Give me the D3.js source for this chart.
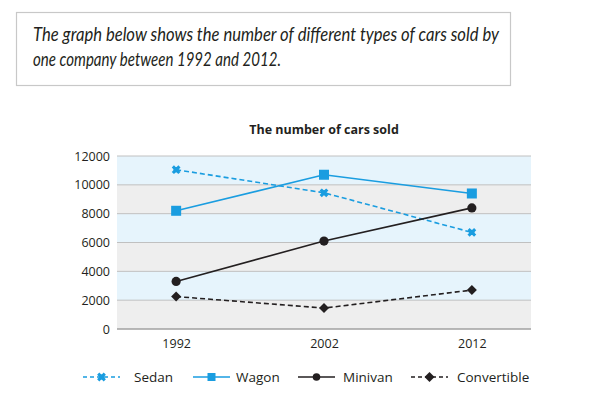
<!DOCTYPE html>
<html>
<head>
<meta charset="utf-8">
<script src="https://cdn.jsdelivr.net/npm/d3@7"></script>
<style>
  html, body { margin: 0; padding: 0; background: #fff; }
  svg { display: block; font-family: "Open Sans", "Noto Sans", sans-serif; }
</style>
</head>
<body>
<svg id="chart" width="615" height="414"></svg>
<script>
const years = ["1992", "2002", "2012"];
const sedan = [11050, 9450, 6700];
const wagon = [8200, 10700, 9400];
const minivan = [3300, 6100, 8400];
const convertible = [2250, 1450, 2700];
const yTicks = [0, 2000, 4000, 6000, 8000, 10000, 12000];
const seriesNames = ["Sedan", "Wagon", "Minivan", "Convertible"];

(function () {
const BLUE = "#1a9de0";
const DARK = "#231f20";
const series = [
  { name: seriesNames[0], values: sedan, color: BLUE, dash: "5,3", marker: "cross" },
  { name: seriesNames[1], values: wagon, color: BLUE, dash: null, marker: "square" },
  { name: seriesNames[2], values: minivan, color: DARK, dash: null, marker: "circle" },
  { name: seriesNames[3], values: convertible, color: DARK, dash: "5,3", marker: "diamond" }
];

const svg = d3.select("#chart");

// Intro box
svg.append("rect").attr("x", 16.5).attr("y", 12.5).attr("width", 494).attr("height", 73)
  .attr("fill", "#fff").attr("stroke", "#c8c8c8").attr("stroke-width", 1.2);
const intro = ["The graph below shows the number of different types of cars sold by",
               "one company between 1992 and 2012."];
const introLen = [466, 248];
svg.selectAll("text.intro").data(intro).join("text").attr("class", "intro")
  .attr("x", 33).attr("y", (d, i) => 41 + i * 25)
  .attr("font-size", 19).attr("font-style", "italic").attr("fill", "#231f20")
  .attr("font-family", "Lato, 'Open Sans', sans-serif")
  .attr("textLength", (d, i) => introLen[i]).attr("lengthAdjust", "spacingAndGlyphs")
  .text(d => d);

// Plot area
const pLeft = 117, pRight = 531, pTop = 156, pBottom = 329;
const x = d3.scalePoint().domain(years).range([pLeft, pRight]).padding(0.4);
const y = d3.scaleLinear().domain([0, 12000]).range([pBottom, pTop]);

// bands
const bands = d3.pairs(yTicks);
svg.append("g").selectAll("rect").data(bands).join("rect")
  .attr("x", pLeft).attr("width", pRight - pLeft)
  .attr("y", d => y(d[1])).attr("height", d => y(d[0]) - y(d[1]))
  .attr("fill", (d, i) => i % 2 === 0 ? "#eeeeee" : "#e6f4fc");

// grid
svg.append("g").selectAll("line").data(yTicks).join("line")
  .attr("x1", pLeft).attr("x2", pRight)
  .attr("y1", d => y(d)).attr("y2", d => y(d))
  .attr("stroke", d => d === 0 ? "#a0a0a0" : "#c0c0c0").attr("stroke-width", d => d === 0 ? 1.5 : 1);

// y axis labels
const yAxis = d3.axisLeft(y).tickValues(yTicks).tickSize(0).tickPadding(7).tickFormat(d3.format("d"));
const yg = svg.append("g").attr("transform", `translate(${pLeft},0)`).call(yAxis);
yg.select(".domain").remove();
yg.selectAll("text").attr("font-size", 12.5).attr("fill", "#231f20").attr("font-family", "'Open Sans', sans-serif");

// x axis labels
const xAxis = d3.axisBottom(x).tickSize(0).tickPadding(10);
const xg = svg.append("g").attr("transform", `translate(0,${pBottom})`).call(xAxis);
xg.select(".domain").remove();
xg.selectAll("text").attr("font-size", 12.5).attr("fill", "#231f20").attr("font-family", "'Open Sans', sans-serif");

// title
svg.append("text").attr("x", 324).attr("y", 134).attr("text-anchor", "middle")
  .attr("font-size", 12.5).attr("font-weight", "bold").attr("fill", "#231f20")
  .attr("font-family", "'Open Sans', sans-serif")
  .text("The number of cars sold");

function drawMarker(g, type, cx, cy, color) {
  if (type === "square") {
    g.append("rect").attr("x", cx - 5).attr("y", cy - 5).attr("width", 10).attr("height", 10).attr("fill", color);
  } else if (type === "circle") {
    g.append("circle").attr("cx", cx).attr("cy", cy).attr("r", 4.6).attr("fill", color);
  } else if (type === "diamond") {
    g.append("path").attr("d", `M${cx},${cy - 5}L${cx + 5},${cy}L${cx},${cy + 5}L${cx - 5},${cy}Z`).attr("fill", color);
  } else if (type === "cross") {
    g.append("path").attr("d", d3.symbol().type(d3.symbolCross).size(48)())
      .attr("transform", `translate(${cx},${cy}) rotate(45)`).attr("fill", color);
    g.append("circle").attr("cx", cx).attr("cy", cy).attr("r", 2.6).attr("fill", color);
  }
}

const line = d3.line().x((d, i) => x(years[i])).y(d => y(d));
series.forEach(s => {
  svg.append("path").datum(s.values).attr("d", line)
    .attr("fill", "none").attr("stroke", s.color).attr("stroke-width", 1.6)
    .attr("stroke-dasharray", s.dash);
  const g = svg.append("g");
  s.values.forEach((v, i) => drawMarker(g, s.marker, x(years[i]), y(v), s.color));
});

// legend
const legendX = [83, 193, 298, 411];
const legendTextX = [134, 236, 343, 457];
const legendY = 377;
series.forEach((s, i) => {
  const g = svg.append("g");
  const x0 = legendX[i];
  g.append("line").attr("x1", x0).attr("x2", x0 + 37).attr("y1", legendY).attr("y2", legendY)
    .attr("stroke", s.color).attr("stroke-width", 1.6).attr("stroke-dasharray", s.dash ? "4,3" : null);
  const mg = g.append("g");
  drawMarker(mg, s.marker, x0 + 18.5, legendY, s.color);
  if (s.marker === "square") mg.select("rect").attr("x", x0 + 18.5 - 4).attr("y", legendY - 4).attr("width", 8).attr("height", 8);
  if (s.marker === "circle") mg.select("circle").attr("r", 3.8);
  g.append("text").attr("x", legendTextX[i]).attr("y", legendY + 4.5)
    .attr("font-size", 13.5).attr("fill", "#231f20").attr("font-family", "'Open Sans', sans-serif")
    .text(s.name);
});
})();
</script>
</body>
</html>
